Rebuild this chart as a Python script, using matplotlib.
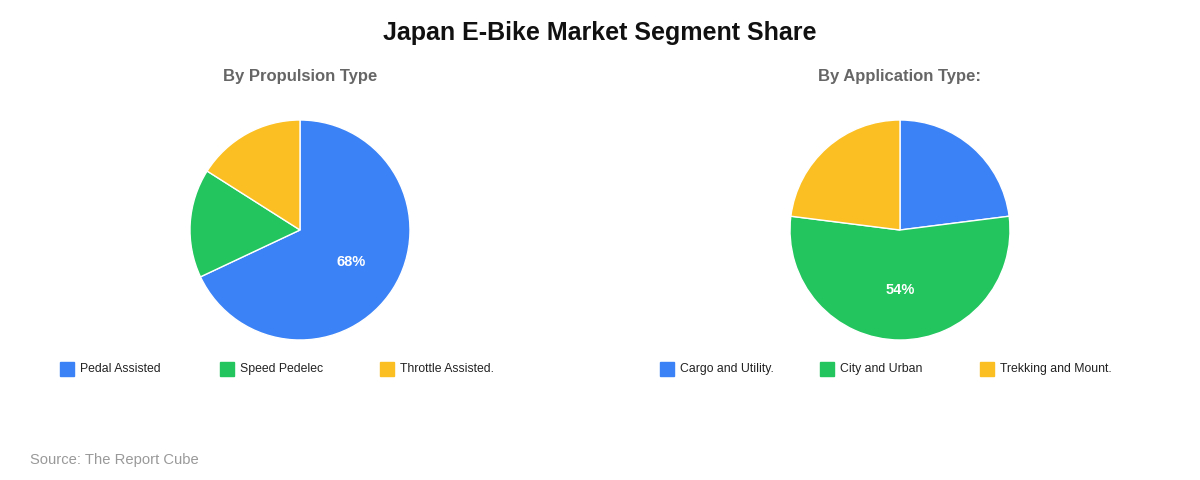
import matplotlib.pyplot as plt
from matplotlib.patches import Rectangle

propulsion_labels = ['Pedal Assisted', 'Speed Pedelec', 'Throttle Assisted.']
propulsion_values = [68, 16, 16]
application_labels = ['Cargo and Utility.', 'City and Urban', 'Trekking and Mount.']
application_values = [23, 54, 23]
colors = ['#3B82F6', '#22C55E', '#FBBF24']

W, H = 1200, 480
fig = plt.figure(figsize=(12, 4.8), dpi=100)
plt.rcParams['font.family'] = ['Liberation Sans', 'DejaVu Sans']

fig.text(0.5, 1 - 33 / H, 'Japan E-Bike Market Segment Share', ha='center', va='center',
         fontsize=18, fontweight='bold', color='#111111')


def big_only(p):
    return '%.0f%%' % p if p > 40 else ''


def draw_pie(cx, subtitle, labels, values, legend_x):
    r = 110
    ax = fig.add_axes([(cx - r) / W, (H - 230 - r) / H, 2 * r / W, 2 * r / H])
    ax.pie(values, colors=colors, startangle=90, counterclock=False, autopct=big_only,
           pctdistance=0.55, wedgeprops=dict(edgecolor='white', linewidth=1),
           textprops=dict(color='white', fontweight='bold', fontsize=10.5))
    ax.set_xlim(-1, 1)
    ax.set_ylim(-1, 1)
    ax.set_aspect('equal')
    fig.text(cx / W, 1 - 77 / H, subtitle, ha='center', va='center', fontsize=12,
             fontweight='bold', color='#666666')
    for i, lab in enumerate(labels):
        x = legend_x + i * 160
        fig.patches.append(Rectangle(((x) / W, 1 - 376 / H), 14 / W, 14 / H,
                                     transform=fig.transFigure, color=colors[i]))
        fig.text((x + 20) / W, 1 - 369 / H, lab, ha='left', va='center', fontsize=8.8, color='#222222')


draw_pie(300, 'By Propulsion Type', propulsion_labels, propulsion_values, 60)
draw_pie(900, 'By Application Type:', application_labels, application_values, 660)

fig.text(30 / W, 1 - 460 / H, 'Source: The Report Cube', ha='left', va='center',
         fontsize=10.6, color='#999999')

fig.savefig('out.png', dpi=100, facecolor='white')
